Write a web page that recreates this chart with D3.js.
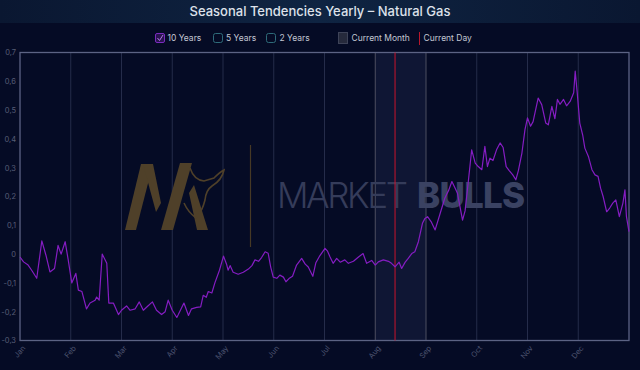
<!DOCTYPE html>
<html><head><meta charset="utf-8">
<script src="https://cdn.jsdelivr.net/npm/d3@7"></script>
<style>
html,body{margin:0;padding:0;background:#050b25;}
svg{display:block;font-family:Inter,"Noto Sans",sans-serif;}
</style></head><body>
<svg id="c" width="640" height="370"></svg>
<script>
const months = ["Jan","Feb","Mar","Apr","May","Jun","Jul","Aug","Sep","Oct","Nov","Dec"];
const yTicks = [-0.3,-0.2,-0.1,0,0.1,0.2,0.3,0.4,0.5,0.6,0.7];
const legendItems = ["10 Years","5 Years","2 Years","Current Month","Current Day"];
const currentMonth = 7;      // Aug (index)
const currentDayPos = 7.39;  // position in months
// seasonal path for 10 years: position in months (0..12) and value
const posM = [0.00,0.07,0.16,0.23,0.33,0.43,0.51,0.59,0.68,0.75,0.81,0.89,0.95,1.02,1.10,1.15,1.22,1.31,1.38,1.48,1.51,1.56,1.62,1.71,1.75,1.84,1.94,2.00,2.10,2.17,2.27,2.35,2.43,2.52,2.61,2.69,2.79,2.86,2.92,3.00,3.09,3.12,3.23,3.32,3.38,3.48,3.56,3.61,3.67,3.71,3.78,3.84,3.93,4.01,4.07,4.10,4.14,4.20,4.30,4.40,4.50,4.57,4.63,4.70,4.76,4.83,4.89,4.94,4.99,5.06,5.12,5.19,5.24,5.30,5.37,5.45,5.55,5.62,5.68,5.77,5.83,5.91,6.01,6.06,6.11,6.17,6.24,6.31,6.40,6.47,6.57,6.67,6.76,6.83,6.93,7.00,7.06,7.16,7.26,7.32,7.39,7.47,7.52,7.59,7.65,7.72,7.78,7.85,7.93,7.98,8.03,8.10,8.18,8.28,8.37,8.45,8.51,8.57,8.62,8.72,8.77,8.83,8.90,8.97,9.03,9.10,9.16,9.21,9.26,9.32,9.39,9.46,9.52,9.58,9.64,9.71,9.77,9.82,9.89,9.95,10.00,10.06,10.11,10.21,10.28,10.36,10.41,10.48,10.54,10.59,10.64,10.71,10.77,10.84,10.91,10.94,10.98,11.03,11.09,11.13,11.20,11.27,11.33,11.39,11.44,11.49,11.56,11.62,11.68,11.74,11.81,11.88,11.92,11.95,12.00];
const val10 = [-0.010,-0.027,-0.038,-0.056,-0.084,0.046,-0.003,-0.062,-0.050,0.030,0.000,0.043,-0.020,-0.100,-0.067,-0.125,-0.130,-0.190,-0.170,-0.160,-0.149,-0.160,0.000,-0.032,-0.170,-0.170,-0.210,-0.195,-0.180,-0.195,-0.190,-0.166,-0.195,-0.180,-0.166,-0.195,-0.210,-0.200,-0.160,-0.195,-0.220,-0.210,-0.170,-0.213,-0.190,-0.185,-0.183,-0.143,-0.150,-0.130,-0.135,-0.100,-0.056,-0.007,-0.035,-0.056,-0.040,-0.063,-0.070,-0.063,-0.052,-0.040,-0.020,-0.025,-0.012,0.008,0.003,-0.045,-0.080,-0.084,-0.073,-0.080,-0.096,-0.085,-0.077,-0.038,-0.015,-0.035,-0.045,-0.077,-0.030,-0.005,0.020,0.010,-0.010,-0.032,-0.015,-0.028,-0.020,-0.032,-0.025,-0.010,0.002,-0.032,-0.022,-0.038,-0.027,-0.020,-0.025,-0.032,-0.044,-0.028,-0.050,-0.028,-0.015,0.002,0.008,0.043,0.107,0.124,0.130,0.113,0.084,0.142,0.194,0.223,0.252,0.230,0.211,0.118,0.150,0.246,0.362,0.316,0.304,0.293,0.374,0.304,0.333,0.325,0.362,0.386,0.370,0.304,0.290,0.275,0.258,0.290,0.351,0.432,0.473,0.444,0.460,0.542,0.519,0.455,0.449,0.513,0.470,0.537,0.520,0.537,0.515,0.530,0.560,0.635,0.560,0.455,0.411,0.368,0.339,0.293,0.275,0.270,0.229,0.200,0.147,0.160,0.177,0.188,0.130,0.177,0.223,0.130,0.078];

const svg = d3.select("#c");
const W = 640, H = 370;
const x = d3.scaleLinear().domain([0,12]).range([20,629]);
const y = d3.scaleLinear().domain([-0.3,0.7]).range([340.5,52.5]);

// background
svg.append("rect").attr("width",W).attr("height",H).attr("fill","#050b25");
const defs = svg.append("defs");
const tg = defs.append("linearGradient").attr("id","tg").attr("x1","0").attr("x2","1");
tg.append("stop").attr("offset","0").attr("stop-color","#0a1731");
tg.append("stop").attr("offset","0.5").attr("stop-color","#0f2442");
tg.append("stop").attr("offset","1").attr("stop-color","#0a1731");
svg.append("rect").attr("width",W).attr("height",23).attr("fill","url(#tg)");
svg.append("text").attr("x",320).attr("y",16).attr("text-anchor","middle")
  .attr("fill","#dde1ea").attr("font-size",13).attr("font-weight",500)
  .text("Seasonal Tendencies Yearly – Natural Gas");

// current month band
svg.append("rect").attr("x",x(currentMonth)).attr("y",y(0.7))
  .attr("width",x(currentMonth+1)-x(currentMonth)).attr("height",y(-0.3)-y(0.7))
  .attr("fill","#0f1634");

// month gridlines
svg.append("g").selectAll("line").data(d3.range(1,12)).join("line")
  .attr("x1",d=>x(d)).attr("x2",d=>x(d)).attr("y1",y(0.7)).attr("y2",y(-0.3))
  .attr("stroke",d=> (d===currentMonth||d===currentMonth+1) ? "#4d4f60" : "#252c4a").attr("stroke-width",1);

// watermark
const wm = svg.append("g");
const gold = "#4f4029";
[[ [125,230],[136,230],[153,164],[141,164] ],
 [ [143,164],[153,164],[161,203],[156,212] ],
 [ [161,230],[173,230],[192,163],[180,163] ],
 [ [189,193],[194,185],[208,230],[197,230] ]].forEach(p=>{
  wm.append("path").attr("d","M"+p.map(q=>q.join(",")).join("L")+"Z").attr("fill",gold);
});
wm.append("path").attr("d","M190,168 Q194,180 204,181 L214,178 Q220,172 224,170 Q222,180 212,186 Q206,190 205,200 Q202,212 196,218 Q188,212 184,203")
  .attr("fill","none").attr("stroke",gold).attr("stroke-width",1.6);
wm.append("line").attr("x1",250.5).attr("x2",250.5).attr("y1",145).attr("y2",247).attr("stroke","#463925").attr("stroke-width",1.2);
wm.append("text").attr("x",277).attr("y",208).attr("font-size",35).attr("font-weight",300)
  .attr("fill","#353c5a").attr("textLength",131).text("MARKET");
wm.append("text").attr("x",417).attr("y",208).attr("font-size",35).attr("font-weight",800)
  .attr("fill","#3a4262").attr("textLength",108).text("BULLS");

// frame
svg.append("rect").attr("x",x(0)).attr("y",y(0.7)).attr("width",x(12)-x(0)).attr("height",y(-0.3)-y(0.7))
  .attr("fill","none").attr("stroke","#5c6384").attr("stroke-width",1.3);

// current day line
svg.append("line").attr("x1",x(currentDayPos)).attr("x2",x(currentDayPos))
  .attr("y1",y(0.7)).attr("y2",y(-0.3)).attr("stroke","#c8142b").attr("stroke-width",1);

// y axis labels
const loc = d3.formatLocale({decimal:",",thousands:".",grouping:[3],currency:["",""],minus:"-"});
const fmt = loc.format("~g");
const yAxis = d3.axisLeft(y).tickValues(yTicks).tickSize(0).tickPadding(4).tickFormat(fmt);
const ya = svg.append("g").attr("transform",`translate(${x(0)},0)`).call(yAxis);
ya.select(".domain").remove();
ya.selectAll("text").attr("fill","#575d75").attr("font-size",7.5).attr("font-family","Inter,'Noto Sans',sans-serif");

// x axis labels
const xAxis = d3.axisBottom(x).tickValues(d3.range(0,12)).tickSize(0).tickFormat(i=>months[i]);
const xa = svg.append("g").attr("transform",`translate(0,${y(-0.3)})`).call(xAxis);
xa.select(".domain").remove();
xa.selectAll("text").attr("fill","#4d5470").attr("font-size",7.5).attr("font-family","Inter,'Noto Sans',sans-serif")
  .attr("text-anchor","end").attr("dy",0).attr("transform","translate(3,6) rotate(-50)");

// series line
const pts = posM.map((p,i)=>[p,val10[i]]);
svg.append("path").datum(pts)
  .attr("d",d3.line().x(d=>x(d[0])).y(d=>y(d[1])))
  .attr("fill","none").attr("stroke","#851dc2").attr("stroke-width",1.2).attr("stroke-linejoin","round");

// legend
const lg = svg.append("g").attr("font-size",8.5).attr("fill","#c3c7d3");
const ly = 41;
lg.append("rect").attr("x",155.5).attr("y",33.5).attr("width",9).attr("height",9).attr("rx",1.5)
  .attr("fill","#2a1450").attr("stroke","#7a2bbf");
lg.append("path").attr("d","M157.5,38 L159.5,40.5 L163,35").attr("fill","none").attr("stroke","#b07ae0").attr("stroke-width",1);
lg.append("text").attr("x",167.5).attr("y",ly).text(legendItems[0]);
lg.append("rect").attr("x",213.5).attr("y",33.5).attr("width",9).attr("height",9).attr("rx",2)
  .attr("fill","none").attr("stroke","#2e6b7a");
lg.append("text").attr("x",226).attr("y",ly).text(legendItems[1]);
lg.append("rect").attr("x",266.5).attr("y",33.5).attr("width",9).attr("height",9).attr("rx",2)
  .attr("fill","none").attr("stroke","#2e6b7a");
lg.append("text").attr("x",279.5).attr("y",ly).text(legendItems[2]);
lg.append("rect").attr("x",338.5).attr("y",32.5).attr("width",9).attr("height",11)
  .attr("fill","#262a3c").attr("stroke","#3e4358");
lg.append("text").attr("x",351.5).attr("y",ly).text(legendItems[3]);
lg.append("line").attr("x1",419.5).attr("x2",419.5).attr("y1",32).attr("y2",45).attr("stroke","#b8172c");
lg.append("text").attr("x",423.5).attr("y",ly).text(legendItems[4]);
</script>
</body></html>
